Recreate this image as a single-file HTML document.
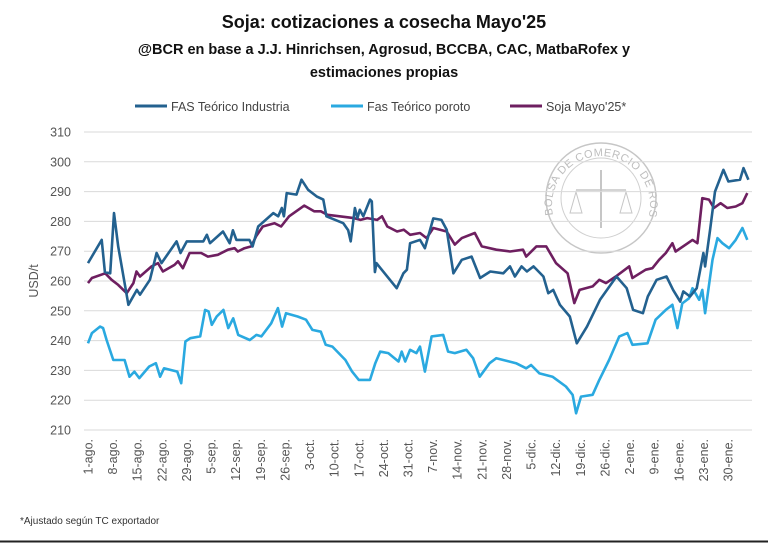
<!DOCTYPE html>
<html><head><meta charset="utf-8">
<style>
html,body{margin:0;padding:0;background:#fff;}
body{width:768px;height:543px;overflow:hidden;position:relative;font-family:"Liberation Sans",sans-serif;}
</style></head>
<body>
<svg id="chart" width="768" height="543" viewBox="0 0 768 543" xmlns="http://www.w3.org/2000/svg" style="position:absolute;left:0;top:0">
<rect x="0" y="0" width="768" height="543" fill="#fff"/>
<line x1="0" y1="541.5" x2="768" y2="541.5" stroke="#222" stroke-width="2"/>
<text x="384" y="28" text-anchor="middle" font-size="18" font-weight="bold" fill="#111">Soja: cotizaciones a cosecha Mayo'25</text>
<text x="384" y="54" text-anchor="middle" font-size="14.5" font-weight="bold" fill="#111">@BCR en base a J.J. Hinrichsen, Agrosud, BCCBA, CAC, MatbaRofex y</text>
<text x="384" y="77" text-anchor="middle" font-size="14.5" font-weight="bold" fill="#111">estimaciones propias</text>
<g>
<g><line x1="135" y1="106" x2="167" y2="106" stroke="#23618f" stroke-width="3"/><text x="171" y="111" font-size="12.5" fill="#444">FAS Teórico Industria</text></g>
<g><line x1="331" y1="106" x2="363" y2="106" stroke="#2aa9e0" stroke-width="3"/><text x="367" y="111" font-size="12.5" fill="#444">Fas Teórico poroto</text></g>
<g><line x1="510" y1="106" x2="542" y2="106" stroke="#6e1f60" stroke-width="3"/><text x="546" y="111" font-size="12.5" fill="#444">Soja Mayo'25*</text></g>
</g>
<text transform="translate(38,281) rotate(-90)" text-anchor="middle" font-size="12.5" fill="#555">USD/t</text>
<g id="seal" opacity="0.55">
<circle cx="601" cy="198" r="55" fill="none" stroke="#999" stroke-width="1.5"/>
<circle cx="601" cy="198" r="40" fill="none" stroke="#aaa" stroke-width="1"/>
<defs><path id="sealArc" d="M 553 215 A 49 49 0 1 1 649 215"/></defs>
<text font-size="11" fill="#888" letter-spacing="0.5"><textPath href="#sealArc">BOLSA DE COMERCIO DE ROSARIO</textPath></text>
<line x1="601" y1="170" x2="601" y2="228" stroke="#999" stroke-width="2"/>
<line x1="576" y1="190" x2="626" y2="190" stroke="#999" stroke-width="1.5"/>
<path d="M570 213 L576 192 L582 213 Z M620 213 L626 192 L632 213 Z" fill="none" stroke="#999"/>
</g>
<g id="grid"></g>
<g id="yticks"></g>
<g id="xticks"></g>
<g id="series"></g>
<text x="20" y="524" font-size="10" fill="#333">*Ajustado según TC exportador</text>
</svg>
<script>
const yTicks = [210,220,230,240,250,260,270,280,290,300,310];
const xLabels = ["1-ago.","8-ago.","15-ago.","22-ago.","29-ago.","5-sep.","12-sep.","19-sep.","26-sep.","3-oct.","10-oct.","17-oct.","24-oct.","31-oct.","7-nov.","14-nov.","21-nov.","28-nov.","5-dic.","12-dic.","19-dic.","26-dic.","2-ene.","9-ene.","16-ene.","23-ene.","30-ene."];
const industriaDays = [0,3.9,4.8,6.3,7.4,8.6,11.5,13.9,14.8,17.6,19.5,20.9,25.2,26.3,28.1,32.8,33.8,34.7,38.4,40.3,41.2,42.2,45.9,46.8,48.4,52.7,54.1,55.1,55.7,56.5,59.3,60.7,62.6,65,66.9,67.8,72.6,74,74.7,75.9,76.6,77.3,78.3,80.2,80.7,81.6,82,87.8,89.7,90.7,91.6,94.4,95.8,98.2,100.5,102,103.9,106.3,109.1,111.5,114.4,118.1,120,121.4,123.3,124.8,126.7,129.5,130.9,132.3,134.2,137,139,141.9,145.6,150.3,153.2,155,157.8,159.2,161.7,164.5,166.4,168.4,169.3,171.2,173.1,174,175,175.5,176.9,178.3,180.7,182.1,185.4,186.4,187.8];
const industriaValues = [266,273.8,263,262.6,282.8,271.6,252,257,255.4,260.4,269.4,266,273.3,269.4,273.3,273.3,275.5,272.7,276.6,272.7,277,273.8,273.8,271.6,278.3,282.8,281.7,284.5,281.7,289.5,289,294,290.6,288.4,287.3,281.7,279.4,277,273.3,284.5,281.1,283.9,281.7,287.3,286.7,263,266,257.6,262.6,263.8,272.7,273.8,271,281,280.5,277.2,262.6,267.1,268.2,261,263.2,262.6,264.9,261.5,264.9,263.2,264.9,261.5,255.9,257,252,248.1,239.1,244.7,253.7,261.5,257.6,250.3,249.2,254.8,260.4,261.5,257,253.1,256.5,254.8,257.6,263.2,269.4,264.9,277.2,290,297.3,293.4,294,297.9,294];
const porotoDays = [0,1.1,3.4,4.3,5.3,7.2,10.4,11.8,13.2,14.6,17.4,19.3,20.5,21.6,25.4,26.5,27.7,29.1,31.9,33.3,34.3,35.2,36.6,38.5,39.9,41.3,42.7,46,47.9,49.3,52.1,54,55.2,56.3,59.6,62,63.8,66.2,67.6,69.5,73.2,75.1,77,80.2,81.7,83.1,85.4,88.3,89.2,90.2,91.6,93.4,94.4,95.8,97.7,101,102.4,104.3,107.6,109.5,111.4,114.2,116.1,121.7,124.6,126,128.4,132.1,135.9,137.8,138.8,140.2,143.5,145.4,148.2,151.1,153.4,154.8,159.1,161.4,164.3,166.2,167.6,169,170.9,171.9,173.8,174.7,175.5,177.6,179,180.4,182.3,184.2,186.1,187.5];
const porotoValues = [239.1,242.5,244.7,244.2,240.2,233.5,233.5,227.9,229.6,227.4,231.3,232.4,227.9,230.7,229.6,225.7,239.7,240.8,241.4,250.3,249.8,245.3,248.1,250.3,244.2,247.5,241.9,240.2,241.9,241.4,245.8,250.9,244.7,249.2,248.1,247,243.6,243,238.6,238,233.5,229.6,226.8,226.8,232.4,236.3,235.8,233,236.3,233,236.9,235.8,238,229.6,241.4,241.9,236.3,235.8,236.9,234.1,227.9,232.4,234.1,232.4,230.7,231.8,229,227.9,224.6,221.8,215.6,221.2,221.8,226.8,233.5,241.4,242.5,238.6,239.1,247,250.3,252,244.2,252.5,254.2,257.6,253.7,257,249.2,267.1,274.4,272.7,271,273.8,277.8,273.8];
const sojaDays = [0,1.1,4.9,6.7,8.6,11,12.9,13.8,14.8,18.1,19.9,21.3,24.6,25.6,27,28.9,32.2,34.1,36.9,39.8,41.7,42.6,44.5,46.4,47.8,49.7,53,54.9,57.2,61.5,64.3,66.2,68.1,75.6,77.5,79.4,82.2,83.6,85.1,87.9,89.8,91.6,94.4,96.3,98.2,102,104.3,106.3,110,112,116.1,120,123.7,124.6,127.5,130.3,133.1,136.4,138.3,139.8,143.5,145.4,147.3,150.1,153.9,154.8,158.6,160.5,162.4,164.3,166.2,167.1,170,171.9,173.3,174.7,176.6,178,179.9,181.8,184.2,186.1,187.5];
const sojaValues = [259.3,261,262.6,260.4,258.7,255.9,259.3,263.2,261.5,264.9,266,263.2,265.4,266.6,264.3,269.4,269.4,268.2,268.8,270.5,271,269.9,271,271.6,275,278.3,279.4,278.3,281.7,285.3,283.4,283.4,282.2,281.1,280.5,281.1,280.5,281.7,278.3,276.6,277.2,275.5,276.1,274.4,277.8,276.6,272.2,274.4,276.1,271.6,270.5,269.9,270.5,268.2,271.6,271.6,266,262.6,252.6,257,258.2,260.4,259.3,261.5,264.9,261,263.8,264.3,267.1,269.4,272.7,269.9,272.2,273.8,272.7,287.8,287.3,284.5,286.1,284.5,285,286.1,289.5];

const NS = "http://www.w3.org/2000/svg";
const X0 = 88, PXDAY = 640/182, Y0 = 430, PXUNIT = 2.98;
function xScale(d){ return X0 + d*PXDAY; }
function yScale(v){ return Y0 - (v-210)*PXUNIT; }

const grid = document.getElementById('grid');
const yt = document.getElementById('yticks');
yTicks.forEach(t=>{
  const l = document.createElementNS(NS,'line');
  l.setAttribute('x1',84); l.setAttribute('x2',752);
  l.setAttribute('y1',yScale(t)); l.setAttribute('y2',yScale(t));
  l.setAttribute('stroke','#dadada'); l.setAttribute('stroke-width','1');
  
  
  grid.appendChild(l);
  const tx = document.createElementNS(NS,'text');
  tx.setAttribute('x',71); tx.setAttribute('y',yScale(t)+4.5);
  tx.setAttribute('text-anchor','end'); tx.setAttribute('font-size','12.5'); tx.setAttribute('fill','#555');
  tx.textContent = t;
  
  
  yt.appendChild(tx);
});
const xt = document.getElementById('xticks');
xLabels.forEach((s,i)=>{
  const x = xScale(i*7);
  const tx = document.createElementNS(NS,'text');
  tx.setAttribute('transform','translate('+(x+4.5)+',439) rotate(-90)');
  tx.setAttribute('text-anchor','end'); tx.setAttribute('font-size','12.5'); tx.setAttribute('fill','#555');
  tx.textContent = s;
  
  
  xt.appendChild(tx);
});
const ser = document.getElementById('series');
function drawLine(days, vals, color, name){
  const p = document.createElementNS(NS,'path');
  let d = '';
  days.forEach((dd,i)=>{ d += (i? 'L':'M') + xScale(dd).toFixed(1) + ' ' + yScale(vals[i]).toFixed(1) + ' '; });
  p.setAttribute('d', d);
  p.setAttribute('fill','none'); p.setAttribute('stroke',color); p.setAttribute('stroke-width','2.6');
  p.setAttribute('stroke-linejoin','round');
  
  
  ser.appendChild(p);
}
drawLine(porotoDays, porotoValues, '#2aa9e0', 'line-fas-poroto');
drawLine(sojaDays, sojaValues, '#6e1f60', 'line-soja-mayo');
drawLine(industriaDays, industriaValues, '#23618f', 'line-fas-industria');
</script>
</body></html>
